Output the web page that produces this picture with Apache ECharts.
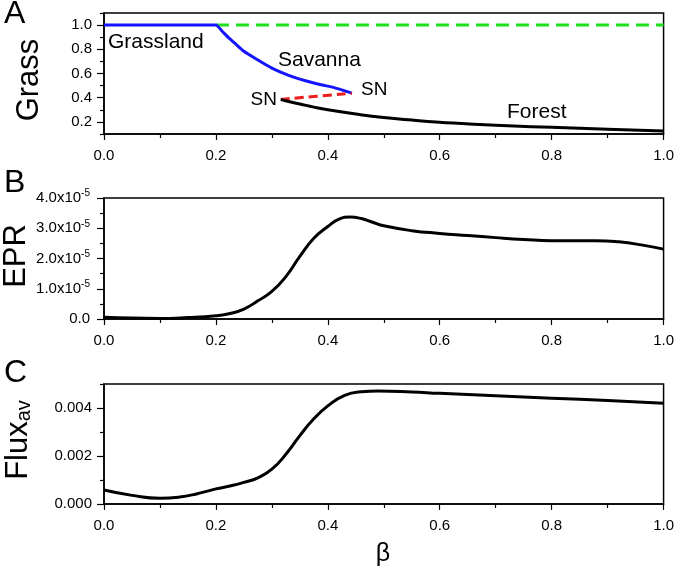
<!DOCTYPE html>
<html>
<head>
<meta charset="utf-8">
<script src="https://cdn.jsdelivr.net/npm/echarts@6/dist/echarts.min.js"></script>
<style>
  html, body { margin: 0; padding: 0; background: #fff; }
  #chart { width: 677px; height: 569px; }
</style>
</head>
<body>
<div id="chart"></div>
<script>
// panel A - grass cover vs beta
const grasslandBeta = [0, 0.2, 0.212, 0.224, 0.236, 0.248, 0.272, 0.30, 0.33, 0.36, 0.39, 0.41, 0.443];
const grasslandVal = [1.0, 1.0, 0.945, 0.89, 0.84, 0.79, 0.72, 0.645, 0.585, 0.54, 0.505, 0.485, 0.438];
const upperBeta = [0.2, 1.0];
const upperVal = [1.0, 1.0];
const unstableBeta = [0.316, 0.38, 0.443];
const unstableVal = [0.386, 0.412, 0.436];
const forestBeta = [0.316, 0.33, 0.35, 0.375, 0.4, 0.45, 0.5, 0.55, 0.6, 0.7, 0.8, 0.9, 1.0];
const forestVal = [0.386, 0.368, 0.348, 0.322, 0.3, 0.265, 0.236, 0.215, 0.198, 0.172, 0.155, 0.14, 0.125];

// panel B - EPR (in units of 1e-5)
const eprBeta = [0, 0.05, 0.1, 0.15, 0.2, 0.225, 0.25, 0.275, 0.3, 0.325, 0.35, 0.375, 0.4, 0.42, 0.44, 0.46, 0.48, 0.5, 0.55, 0.6, 0.65, 0.7, 0.75, 0.8, 0.85, 0.88, 0.92, 0.96, 1.0];
const eprVal = [0.06, 0.03, 0.02, 0.05, 0.11, 0.18, 0.33, 0.6, 0.91, 1.4, 2.07, 2.67, 3.06, 3.3, 3.37, 3.32, 3.2, 3.08, 2.92, 2.83, 2.76, 2.69, 2.63, 2.59, 2.59, 2.59, 2.55, 2.45, 2.31];

// panel C - average flux
const fluxBeta = [0, 0.05, 0.1, 0.135, 0.165, 0.2, 0.225, 0.25, 0.275, 0.3, 0.325, 0.35, 0.375, 0.4, 0.43, 0.46, 0.49, 0.55, 0.6, 0.7, 0.8, 0.9, 1.0];
const fluxVal = [0.00058, 0.00036, 0.00024, 0.00029, 0.00042, 0.00063, 0.00075, 0.0009, 0.00109, 0.00145, 0.00207, 0.00285, 0.00355, 0.00409, 0.00453, 0.00468, 0.00471, 0.00467, 0.00461, 0.00451, 0.00441, 0.00431, 0.0042];

// tick values
const grassMajor = [0.2, 0.4, 0.6, 0.8, 1.0];
const grassMinor = [0.1, 0.3, 0.5, 0.7, 0.9, 1.1];
const eprMajor = [0, 1, 2, 3, 4];
const eprMinor = [0.5, 1.5, 2.5, 3.5];
const fluxMajor = [0, 0.002, 0.004];
const fluxMinor = [0.001, 0.003, 0.005];

const font = 'Liberation Sans, Arial, sans-serif';
const pair = (xs, ys) => xs.map((x, i) => [x, ys[i]]);

const chart = echarts.init(document.getElementById('chart'));

const grids = [
    { left: 104, right: 12, top: 13, height: 121 },
    { left: 104, right: 12, top: 198, height: 121 },
    { left: 104, right: 12, top: 384, height: 120 }
].map(g => Object.assign(g, { show: true, borderColor: '#000', borderWidth: 1.5, backgroundColor: 'transparent' }));

function xAxis(i) {
    return {
        type: 'value', gridIndex: i, min: 0, max: 1, interval: 0.2,
        axisLine: { show: true, lineStyle: { color: '#000', width: 1.5 } },
        axisTick: { show: true, length: 6, lineStyle: { color: '#000', width: 1.2 } },
        minorTick: { show: true, splitNumber: 2, length: 4, lineStyle: { color: '#000', width: 1.2 } },
        axisLabel: { fontSize: 15, color: '#000', fontFamily: font, margin: 14, formatter: v => v.toFixed(1) },
        splitLine: { show: false }
    };
}

function yAxes(i, min, max, majors, minors, fmt, margin, rich) {
    return [
        {
            type: 'value', gridIndex: i, min, max, position: 'left',
            axisLine: { show: true, lineStyle: { color: '#000', width: 1.5 } },
            axisTick: { show: true, customValues: majors, length: 7, lineStyle: { color: '#000', width: 1.2 } },
            axisLabel: { customValues: majors, formatter: fmt, margin, fontSize: 15, color: '#000', fontFamily: font, rich },
            splitLine: { show: false }
        },
        {
            type: 'value', gridIndex: i, min, max, position: 'left',
            axisLine: { show: false },
            axisTick: { show: true, customValues: minors, length: 4, lineStyle: { color: '#000', width: 1.2 } },
            axisLabel: { show: false },
            splitLine: { show: false }
        }
    ];
}

const line = (xi, yi, data, color, width, type, smooth) => ({
    type: 'line', xAxisIndex: xi, yAxisIndex: yi, data, showSymbol: false,
    smooth: smooth === undefined ? 0.5 : smooth,
    lineStyle: { color, width, type: type || 'solid', cap: 'butt', join: 'round' }
});

function label(text, x, y, size, align) {
    return {
        type: 'text', x, y,
        style: { text, font: size + 'px ' + font, fill: '#000', textAlign: align || 'left', textVerticalAlign: 'middle' }
    };
}

function vlabel(text, x, y, size, rich) {
    return {
        type: 'text', x, y, rotation: Math.PI / 2,
        style: { text, font: size + 'px ' + font, fill: '#000', textAlign: 'center', textVerticalAlign: 'middle', rich }
    };
}

chart.setOption({
    animation: false,
    backgroundColor: '#fff',
    grid: grids,
    xAxis: [xAxis(0), xAxis(1), xAxis(2)],
    yAxis: [
        ...yAxes(0, 0.1, 1.1, grassMajor, grassMinor, v => v.toFixed(1), 12),
        ...yAxes(1, 0, 4, eprMajor, eprMinor,
            v => v === 0 ? '0.0' : v.toFixed(1) + 'x10{sup|-5}', 14,
            { sup: { fontSize: 10, fontFamily: font, color: '#000', padding: [0, 0, 9, 0] } }),
        ...yAxes(2, 0, 0.005, fluxMajor, fluxMinor, v => v.toFixed(3), 12)
    ],
    series: [
        line(0, 0, pair(upperBeta, upperVal), '#1ee01e', 3, [13, 7], false),
        line(0, 0, pair(grasslandBeta, grasslandVal), '#1414ff', 3, 'solid', 0.15),
        line(0, 0, pair(unstableBeta, unstableVal), '#ee1c1c', 3, [9, 5]),
        line(0, 0, pair(forestBeta, forestVal), '#000', 3),
        line(1, 2, pair(eprBeta, eprVal), '#000', 3),
        line(2, 4, pair(fluxBeta, fluxVal), '#000', 3)
    ],
    graphic: [
        label('A', 4, 14, 32),
        label('B', 4, 183, 32),
        label('C', 4, 373, 32),
        vlabel('Grass', 29, 80, 31),
        vlabel('EPR', 16, 256, 31),
        vlabel('Flux{sub|av}', 18, 440, 31, { sub: { fontSize: 20, fontFamily: font, fill: '#000', padding: [12, 0, 0, 0] } }),
        label('β', 383, 554, 25, 'center'),
        label('Grassland', 108, 42, 21),
        label('Savanna', 278, 60, 21),
        label('SN', 361, 90, 19),
        label('SN', 277, 100, 19, 'right'),
        label('Forest', 507, 112, 21)
    ]
});
</script>
</body>
</html>
